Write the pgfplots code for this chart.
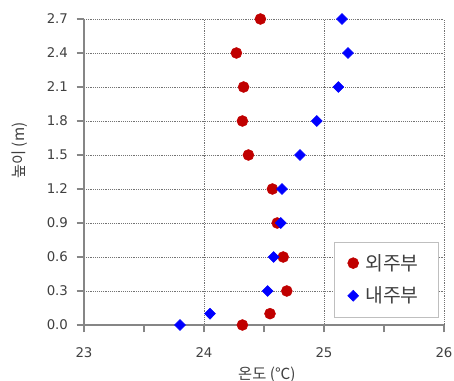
\documentclass[border=0pt]{standalone}
\usepackage{pgfplots}
\pgfplotsset{compat=1.18}
\usepackage{fontspec}
\setmainfont{DejaVu Sans}
\newfontfamily\kr{Noto Sans CJK KR}
\definecolor{exred}{RGB}{192,0,0}
\definecolor{exblue}{RGB}{0,0,255}
\definecolor{axgray}{RGB}{134,134,134}
\definecolor{txt}{RGB}{64,64,64}
\begin{document}
\begin{tikzpicture}
\path[use as bounding box] (-63pt,-42pt) rectangle (277.5pt,243.75pt);
\begin{axis}[
  scale only axis,
  width=270pt, height=229.5pt,
  xmin=23, xmax=26, ymin=0, ymax=2.7,
  clip=false,
  axis x line=bottom, axis y line=left,
  axis line style={-, axgray, line width=0.8pt},
  xtick={23,24,25,26},
  minor xtick={23.5,24.5,25.5},
  ytick={0,0.3,0.6,0.9,1.2,1.5,1.8,2.1,2.4,2.7},
  yticklabel style={/pgf/number format/fixed, /pgf/number format/fixed zerofill, /pgf/number format/precision=1, xshift=-3pt},
  /pgf/number format/assume math mode=true,
  tick align=outside,
  major tick length=5.5pt, minor tick length=5.5pt,
  tick style={axgray, line width=0.8pt},
  xmajorgrids, ymajorgrids,
  major grid style={densely dotted, black!55, line width=0.6pt},
  ticklabel style={font=\fontsize{10}{12}\selectfont, text=txt},
  xticklabel style={yshift=-8pt},
  xlabel={\kr 온도 (℃)},
  ylabel={\kr 높이 (m)},
  xlabel style={at={(axis description cs:0.508,-0.178)}, anchor=base, font=\fontsize{11.5}{13}\selectfont, text=txt},
  ylabel style={at={(axis description cs:-0.178,0.57)}, anchor=center, font=\fontsize{11.5}{13}\selectfont, text=txt},
  legend cell align=left,
  legend style={at={(axis description cs:0.986,0.026)}, anchor=south east,
    draw=black!25, font=\kr\fontsize{14.5}{16}\selectfont, text=txt,
    row sep=7pt, inner xsep=10pt, inner ysep=7pt,
    nodes={inner xsep=5pt}},
]
\addplot[only marks, mark=*, mark size=4.1pt, exred, mark options={fill=exred, draw=exred}] coordinates {
(24.32,0.0) (24.55,0.1) (24.69,0.3) (24.66,0.6) (24.61,0.9) (24.57,1.2)
(24.37,1.5) (24.32,1.8) (24.33,2.1) (24.27,2.4) (24.47,2.7)
};
\addlegendentry{외주부}
\addplot[only marks, mark=diamond*, mark size=4.1pt, exblue, mark options={fill=exblue, draw=exblue, xscale=1.33}] coordinates {
(23.80,0.0) (24.05,0.1) (24.53,0.3) (24.58,0.6) (24.64,0.9) (24.65,1.2)
(24.80,1.5) (24.94,1.8) (25.12,2.1) (25.20,2.4) (25.15,2.7)
};
\addlegendentry{내주부}
\end{axis}
\end{tikzpicture}
\end{document}
